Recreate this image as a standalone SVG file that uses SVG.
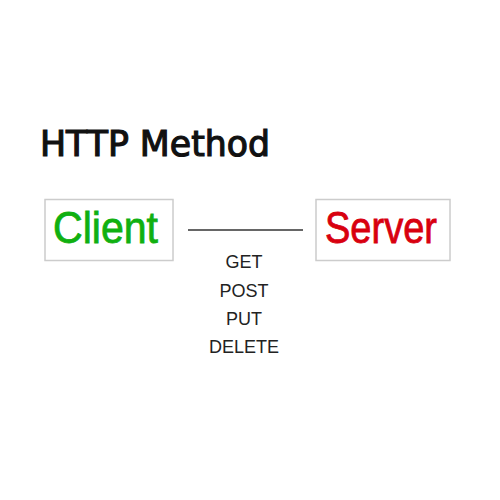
<svg xmlns="http://www.w3.org/2000/svg" width="500" height="500" viewBox="0 0 500 500">
<style>
.box{fill:#fff;stroke:#cccccc;stroke-width:1.5}
.title{font-family:"DejaVu Sans",sans-serif;font-size:35px;fill:#111;stroke:#111;stroke-width:1.2}
.node{font-family:"Liberation Sans",Arial,sans-serif;font-size:44px;stroke-width:0.8}
.method{font-family:"Liberation Sans",Arial,sans-serif;font-size:18px;fill:#222;text-anchor:middle}
</style>
<rect width="500" height="500" fill="#fff"/>
<text class="title" x="40" y="156" textLength="230" lengthAdjust="spacingAndGlyphs">HTTP Method</text>
<g id="client">
<rect class="box" x="45" y="199.5" width="128" height="61"/>
<text class="node" x="53" y="243" fill="#10b010" stroke="#10b010" textLength="105" lengthAdjust="spacingAndGlyphs">Client</text>
</g>
<g id="server">
<rect class="box" x="316" y="199.5" width="134" height="61"/>
<text class="node" x="325" y="243" fill="#d8000f" stroke="#d8000f" textLength="112" lengthAdjust="spacingAndGlyphs">Server</text>
</g>
<g id="connectors">
<line x1="188" y1="230" x2="303" y2="230" stroke="#333" stroke-width="1.5"/>
<text class="method" x="244" y="268">GET</text>
<text class="method" x="244" y="297">POST</text>
<text class="method" x="244" y="325">PUT</text>
<text class="method" x="244" y="353">DELETE</text>
</g>
</svg>
